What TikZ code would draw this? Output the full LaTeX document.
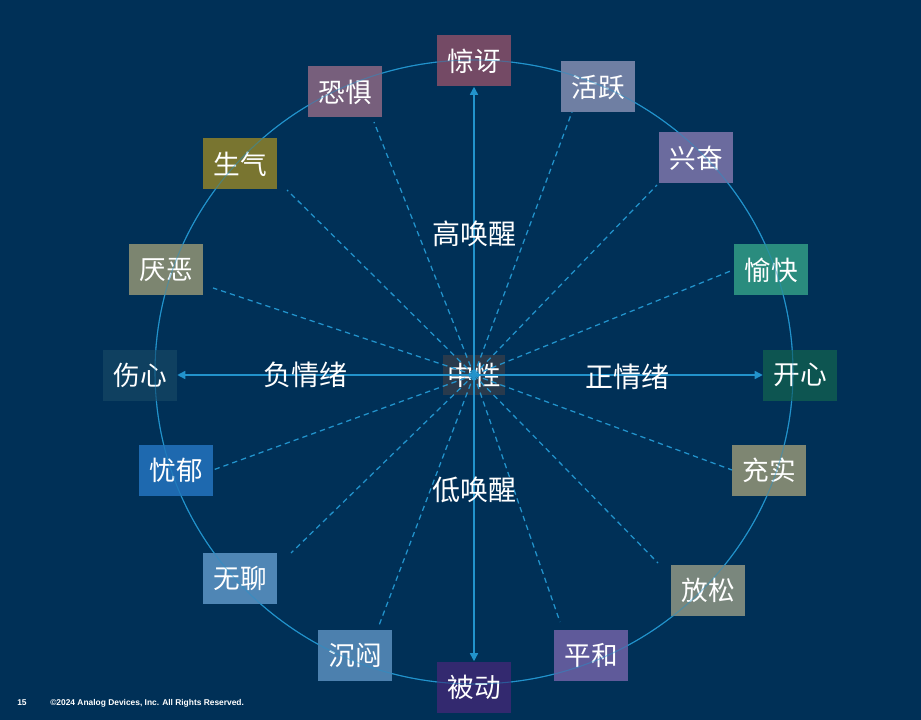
\documentclass[tikz,border=0pt]{standalone}
\usepackage{fontspec}
\setmainfont{Liberation Sans}
\newfontfamily\cjk{Noto Sans CJK SC}
\usetikzlibrary{arrows.meta}
\definecolor{bg}{HTML}{003057}
\definecolor{lineblue}{HTML}{2293CC}
\definecolor{cJingya}{HTML}{744A65}
\definecolor{cKongju}{HTML}{775F7C}
\definecolor{cHuoyue}{HTML}{6F7FA3}
\definecolor{cXingfen}{HTML}{6B6B9E}
\definecolor{cYukuai}{HTML}{2A8C7E}
\definecolor{cKaixin}{HTML}{0D5551}
\definecolor{cChongshi}{HTML}{7E8672}
\definecolor{cFangsong}{HTML}{7A877D}
\definecolor{cPinghe}{HTML}{5F5A9A}
\definecolor{cBeidong}{HTML}{33296F}
\definecolor{cChenmen}{HTML}{4C80AE}
\definecolor{cWuliao}{HTML}{4F86B5}
\definecolor{cYouyu}{HTML}{1E69AF}
\definecolor{cShangxin}{HTML}{0F4060}
\definecolor{cYanwu}{HTML}{7C8570}
\definecolor{cShengqi}{HTML}{797530}
\definecolor{cZhong}{HTML}{293A4C}
\begin{document}
\begin{tikzpicture}[x=0.75pt,y=-0.75pt,
  emo/.style={fill=#1, text=white, minimum width=55.5pt, minimum height=38.25pt, inner sep=0pt, font=\cjk\fontsize{20}{24}\selectfont},
  axislabel/.style={text=white, inner sep=0pt, font=\cjk\fontsize{21}{25}\selectfont},
  axisarrow/.style={draw=lineblue, line width=1.1pt, -{Triangle[length=6pt,width=6pt]}},
  spoke/.style={draw=lineblue, line width=0.95pt, dash pattern=on 4pt off 3pt},
  ring/.style={draw=lineblue, line width=0.8pt},
  foot/.style={text=white, inner sep=0pt, font=\bfseries\fontsize{6.3}{7.5}\selectfont}]
\useasboundingbox (0,0) rectangle (921,720);
\fill[bg] (0,0) rectangle (921,720);
\draw[ring] (474,372) ellipse [x radius=319, y radius=312];
% center
\node[emo=cZhong, minimum width=46.5pt, minimum height=30pt] (c) at (474,375) {中性};
% emotion boxes
\node[emo=cJingya] (jingya) at (474,61) {惊讶};
\node[emo=cHuoyue] (huoyue) at (598,87) {活跃};
\node[emo=cXingfen] (xingfen) at (696,158) {兴奋};
\node[emo=cYukuai] (yukuai) at (771,270) {愉快};
\node[emo=cKaixin] (kaixin) at (800,375) {开心};
\node[emo=cChongshi] (chongshi) at (769,470) {充实};
\node[emo=cFangsong] (fangsong) at (708,590) {放松};
\node[emo=cPinghe] (pinghe) at (591,655) {平和};
\node[emo=cBeidong] (beidong) at (474,687) {被动};
\node[emo=cChenmen] (chenmen) at (355,655) {沉闷};
\node[emo=cWuliao] (wuliao) at (240,578) {无聊};
\node[emo=cYouyu] (youyu) at (176,470) {忧郁};
\node[emo=cShangxin] (shangxin) at (140,375) {伤心};
\node[emo=cYanwu] (yanwu) at (166,270) {厌恶};
\node[emo=cShengqi] (shengqi) at (240,164) {生气};
\node[emo=cKongju] (kongju) at (345,92) {恐惧};
% ring shows faintly through the boxes
\draw[ring, draw opacity=0.45] (474,372) ellipse [x radius=319, y radius=312];
% spoke ends
\coordinate (eKongju) at (374,122);
\coordinate (eHuoyue) at (572,112);
\coordinate (eShengqi) at (287,190);
\coordinate (eXingfen) at (657,185);
\coordinate (eYanwu) at (213,288);
\coordinate (eYukuai) at (733,270);
\coordinate (eYouyu) at (213,470);
\coordinate (eChongshi) at (732,470);
\coordinate (eWuliao) at (291,553);
\coordinate (eFangsong) at (658,563);
\coordinate (eChenmen) at (378,628);
\coordinate (ePinghe) at (560,622);
\foreach \e in {eKongju,eHuoyue,eShengqi,eXingfen,eYanwu,eYukuai,eYouyu,eChongshi,eWuliao,eFangsong,eChenmen,ePinghe}
  \draw[spoke] (c.center) -- (\e);
% axes
\draw[axisarrow] (c.center) -- (jingya);
\draw[axisarrow] (c.center) -- (beidong);
\draw[axisarrow] (c.center) -- (shangxin);
\draw[axisarrow] (c.center) -- (kaixin);
% axis labels
\node[axislabel] (high) at (474,234) {高唤醒};
\node[axislabel] (low) at (474,490) {低唤醒};
\node[axislabel] (neg) at (305,375) {负情绪};
\node[axislabel] (pos) at (627,377) {正情绪};
% footer
\node[foot] (pg) at (22,703) {15};
\node[foot, anchor=west] (copy) at (50,703) {©2024 Analog Devices, Inc. All Rights Reserved.};
\end{tikzpicture}
\end{document}
